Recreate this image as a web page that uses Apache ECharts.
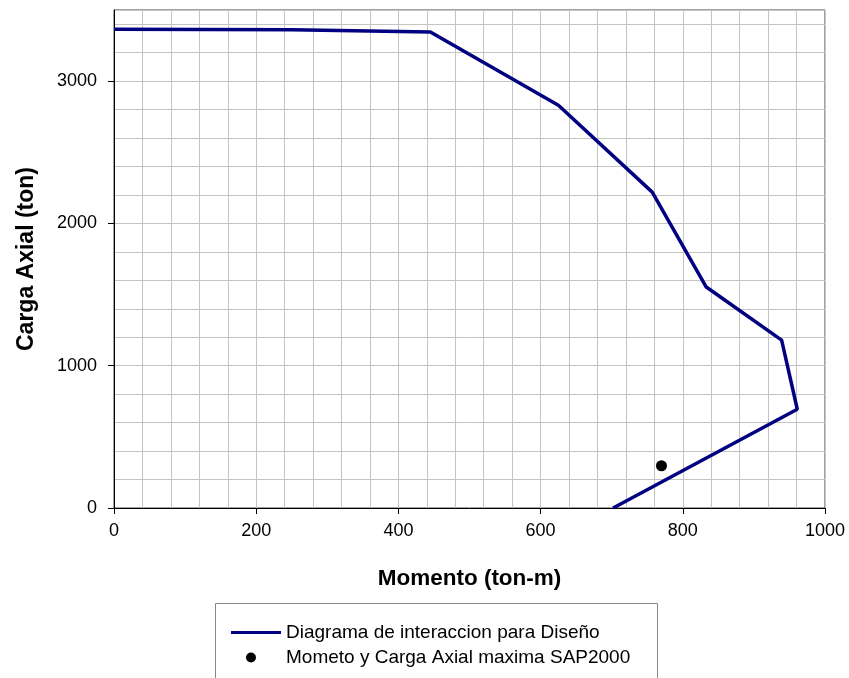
<!DOCTYPE html>
<html>
<head>
<meta charset="utf-8">
<script src="https://cdn.jsdelivr.net/npm/echarts@6/dist/echarts.min.js"></script>
<style>html,body{margin:0;padding:0;background:#fff}#c{width:849px;height:678px}</style>
</head>
<body>
<div id="c"></div>
<script>
var momento = [0, 250, 445, 625, 757, 833, 939, 961, 702];
var carga = [3365, 3362, 3345, 2830, 2220, 1553, 1180, 694, 0];
var sapMomento = [770];
var sapCarga = [297];
var xTickLabels = [0, 200, 400, 600, 800, 1000];
var yTickLabels = [0, 1000, 2000, 3000];
var seriesNames = ['Diagrama de interaccion para Diseño', 'Mometo y Carga Axial maxima SAP2000'];

var FONT = '"Liberation Sans", Arial, sans-serif';
var plain = function (v) { return String(v); };
var chart = echarts.init(document.getElementById('c'), null, {renderer: 'canvas'});
chart.setOption({
  animation: false,
  backgroundColor: '#fff',
  grid: {left: 114, right: 24, top: 10, bottom: 170, show: true, borderColor: '#444', borderWidth: 1, backgroundColor: 'transparent'},
  xAxis: [{
    type: 'value', min: 0, max: 1000, interval: 200,
    name: 'Momento (ton-m)', nameLocation: 'middle', nameGap: 59,
    nameTextStyle: {fontFamily: FONT, fontSize: 22.5, fontWeight: 'bold', color: '#000'},
    axisLine: {show: true, onZero: false, lineStyle: {color: '#000', width: 1}},
    axisTick: {show: true, length: 6, lineStyle: {color: '#000'}},
    axisLabel: {fontFamily: FONT, fontSize: 18, color: '#000', margin: 14, formatter: plain},
    splitLine: {show: false}
  }, {
    type: 'value', min: 0, max: 1000, interval: 40, position: 'bottom',
    axisLine: {show: false}, axisTick: {show: false}, axisLabel: {show: false},
    splitLine: {show: true, lineStyle: {color: '#c4c4c4', width: 1}}
  }],
  yAxis: [{
    type: 'value', min: 0, max: 3500, interval: 1000,
    name: 'Carga Axial (ton)', nameLocation: 'middle', nameGap: 76,
    nameTextStyle: {fontFamily: FONT, fontSize: 23, fontWeight: 'bold', color: '#000'},
    axisLine: {show: true, onZero: false, lineStyle: {color: '#000', width: 1}},
    axisTick: {show: true, length: 6, lineStyle: {color: '#000'}, customValues: yTickLabels},
    axisLabel: {fontFamily: FONT, fontSize: 18, color: '#000', margin: 17, formatter: plain, customValues: yTickLabels},
    splitLine: {show: false}
  }, {
    type: 'value', min: 0, max: 3500, interval: 200, position: 'left',
    axisLine: {show: false}, axisTick: {show: false}, axisLabel: {show: false},
    splitLine: {show: true, lineStyle: {color: '#c4c4c4', width: 1}}
  }],
  legend: {
    orient: 'vertical', left: 226, top: 618, itemGap: 6, itemWidth: 50, itemHeight: 19,
    textStyle: {fontFamily: FONT, fontSize: 19, color: '#000'},
    data: [
      {name: seriesNames[0], icon: 'path://M0,8 L48,8 L48,11 L0,11 Z'},
      {name: seriesNames[1], icon: 'path://M0,0 L0.01,0 L0,0 Z M48,19 L48.01,19 L48,19 Z M19,4.5 A5,5 0 1 1 19,14.5 A5,5 0 1 1 19,4.5 Z'}
    ]
  },
  graphic: [{
    type: 'rect', left: 215, top: 603, z: -1,
    shape: {width: 442, height: 90},
    style: {fill: '#fff', stroke: '#888', lineWidth: 1}
  }],
  series: [
    {
      name: seriesNames[0], type: 'line', showSymbol: false, symbol: 'none',
      data: momento.map(function (m, i) { return [m, carga[i]]; }),
      lineStyle: {color: '#000080', width: 3.5}, itemStyle: {color: '#000080'}
    },
    {
      name: seriesNames[1], type: 'scatter', symbol: 'circle', symbolSize: 11,
      data: sapMomento.map(function (m, i) { return [m, sapCarga[i]]; }),
      itemStyle: {color: '#000', opacity: 1}
    }
  ]
});
</script>
</body>
</html>
